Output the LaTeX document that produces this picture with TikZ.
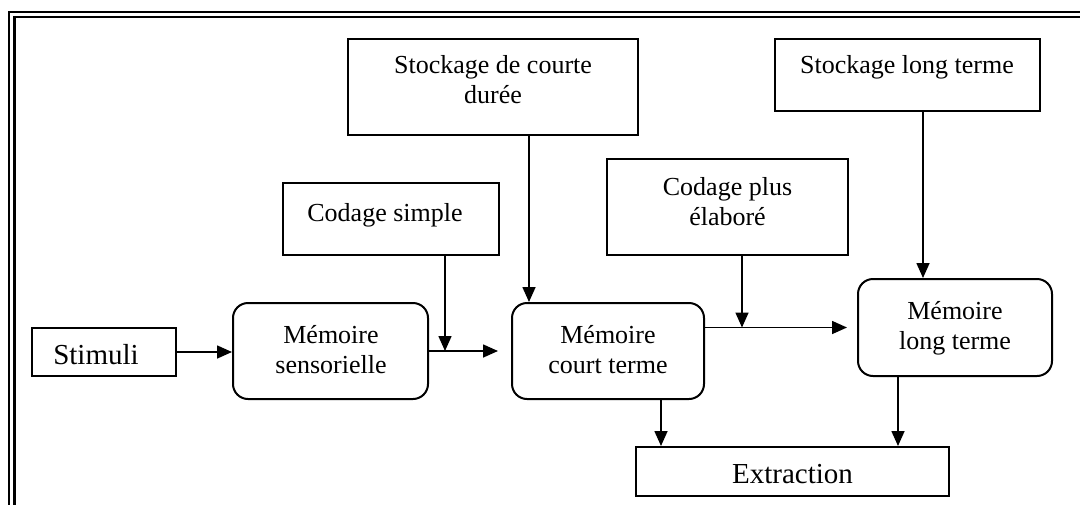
\documentclass[tikz,border=0pt]{standalone}
\usepackage{fontspec}
\setmainfont{Liberation Serif}
\usetikzlibrary{arrows.meta}
\begin{document}
\begin{tikzpicture}[x=1pt,y=-1pt,
  box/.style={draw, line width=2pt, inner sep=0pt, minimum width=#1},
  rbox/.style={box=#1, rounded corners=15pt},
  txt/.style={anchor=base, inner sep=0pt, align=center,
    font=\fontsize{26}{30}\selectfont},
  bigtxt/.style={anchor=base, inner sep=0pt, font=\fontsize{29}{34}\selectfont},
  arr/.style={line width=1.6pt, -{Triangle[length=15pt,width=13pt]}}]
\useasboundingbox (0,0) rectangle (1080,504);
\clip (0,0) rectangle (1080,504);
\fill[white] (0,0) rectangle (1080,504);

% double frame
\draw[line width=2.4pt] (9,12) rectangle (1200,700);
\draw[line width=2.4pt] (14.5,17) rectangle (1200,700);

% boxes
\node[box=144pt, minimum height=48pt] (stim) at (104,352) {};
\node[rbox=195pt, minimum height=96pt] (ms) at (330.5,351) {};
\node[box=216pt, minimum height=72pt] (cs) at (391,219) {};
\node[box=290pt, minimum height=96pt] (scd) at (493,87) {};
\node[rbox=192pt, minimum height=96pt] (mct) at (608,351) {};
\node[box=241pt, minimum height=96pt] (cpe) at (727.5,207) {};
\node[box=265pt, minimum height=72pt] (slt) at (907.5,75) {};
\node[rbox=194pt, minimum height=97pt] (mlt) at (955,327.5) {};
\node[box=313pt, minimum height=49pt] (ext) at (792.5,471.5) {};

% labels (base anchor sits on the last line)
\node[bigtxt] (stim-t) at (96,364) {Stimuli};
\node[txt] (ms-t) at (331,373) {Mémoire\\sensorielle};
\node[txt] (cs-t) at (385,221) {Codage simple};
\node[txt] (scd-t) at (493,103) {Stockage de courte\\durée};
\node[txt] (mct-t) at (608,373) {Mémoire\\court terme};
\node[txt] (cpe-t) at (727.5,225) {Codage plus\\élaboré};
\node[txt] (slt-t) at (907,73) {Stockage long terme};
\node[txt] (mlt-t) at (955,349) {Mémoire\\long terme};
\node[bigtxt] (ext-t) at (792.5,483) {Extraction};

% junction points
\coordinate (j1) at (498,351);
\coordinate (k1) at (445,351);
\coordinate (k2) at (529,0);
\coordinate (j2) at (847,327.5);
\coordinate (k3) at (742,327.5);
\coordinate (k4) at (923,0);
\coordinate (k5) at (661,0);
\coordinate (k6) at (898,0);

% connectors
\draw[arr] (stim.east) -- (stim.east -| ms.west);
\draw[arr] (ms.east |- j1) -- (j1);
\draw[arr] (cs.south -| k1) -- (k1);
\draw[arr] (scd.south -| k2) -- (k2 |- mct.north);
\draw[arr] (mct.east |- j2) -- (j2);
\draw[arr] (cpe.south -| k3) -- (k3);
\draw[arr] (slt.south -| k4) -- (k4 |- mlt.north);
\draw[arr] (mct.south -| k5) -- (k5 |- ext.north);
\draw[arr] (mlt.south -| k6) -- (k6 |- ext.north);
\end{tikzpicture}
\end{document}
